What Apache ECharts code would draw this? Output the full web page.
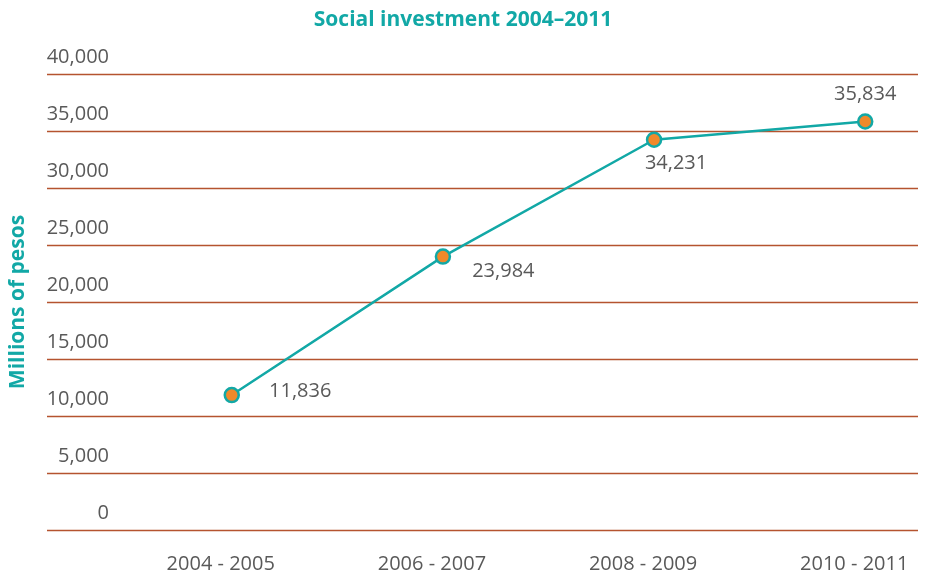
<!DOCTYPE html>
<html>
<head>
<meta charset="utf-8">
<script src="https://cdn.jsdelivr.net/npm/echarts@6/dist/echarts.min.js"></script>
<style>
  html, body { margin: 0; padding: 0; background: #fff; }
  #chart { width: 926px; height: 574px; }
</style>
</head>
<body>
<div id="chart"></div>
<script>
const categories = ['2004 - 2005', '2006 - 2007', '2008 - 2009', '2010 - 2011']
const investment = [11836, 23984, 34231, 35834]
const yTicks = [0, 5000, 10000, 15000, 20000, 25000, 30000, 35000, 40000]

const teal = '#12a8a6'
const orange = '#f0892a'
const textGray = '#595959'
const gridColor = '#b5532f'

// label placement per point, same order as categories
const labelPlacement = [
  { position: 'right', offset: [24, -4] },
  { position: 'right', offset: [16, 15] },
  { position: 'bottom', offset: [22, 0] },
  { position: 'top', offset: [0, -4] },
]

const chart = echarts.init(document.getElementById('chart'))

chart.setOption({
  textStyle: { fontFamily: 'Open Sans' },
  title: {
    text: 'Social investment 2004–2011',
    left: 'center',
    top: 5,
    textStyle: { color: teal, fontSize: 21, fontWeight: 'bold', fontFamily: 'Open Sans' },
  },
  grid: { left: 46, right: 8, top: 74, bottom: 43 },
  xAxis: {
    type: 'value',
    min: -0.875,
    max: 3.25,
    axisLine: { show: false },
    axisTick: { show: false },
    splitLine: { show: false },
    axisLabel: {
      customValues: categories.map((c, i) => i),
      formatter: v => categories[Math.round(v)],
      color: textGray,
      fontSize: 20,
      margin: 24,
      padding: [0, 22, 0, 0],
    },
  },
  yAxis: {
    type: 'value',
    min: yTicks[0],
    max: yTicks[yTicks.length - 1],
    interval: 5000,
    name: 'Millions of pesos',
    nameLocation: 'middle',
    nameRotate: 90,
    nameGap: 18,
    nameTextStyle: { color: teal, fontSize: 21, fontWeight: 'bold' },
    axisLine: { show: false },
    axisTick: { show: false },
    axisLabel: {
      margin: -62,
      align: 'right',
      verticalAlign: 'bottom',
      lineHeight: 22,
      color: textGray,
      fontSize: 20,
      padding: [0, 0, 6, 0],
      formatter: v => v.toLocaleString('en-US'),
    },
    splitLine: { lineStyle: { color: gridColor, width: 1.3 } },
  },
  series: [{
    type: 'line',
    data: investment.map((v, i) => ({
      value: [i, v],
      label: labelPlacement[i],
    })),
    symbol: 'circle',
    symbolSize: 14,
    lineStyle: { color: teal, width: 2.5 },
    itemStyle: { color: orange, borderColor: teal, borderWidth: 2.5 },
    label: {
      show: true,
      color: textGray,
      fontSize: 20,
      formatter: p => p.value[1].toLocaleString('en-US'),
    },
    animation: false,
  }],
})
</script>
</body>
</html>
